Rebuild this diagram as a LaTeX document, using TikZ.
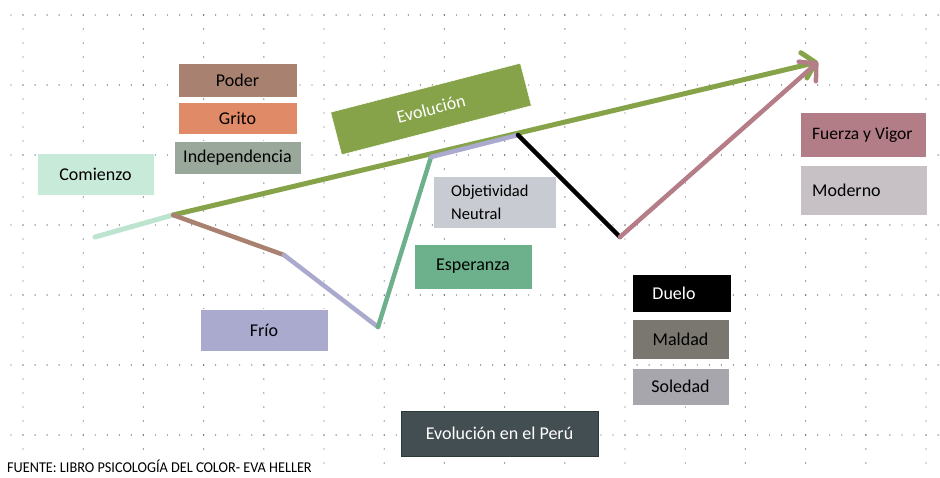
\documentclass[tikz,border=0pt]{standalone}
\usepackage{fontspec}
\setmainfont{Carlito}
\usetikzlibrary{arrows.meta}
\definecolor{dotc}{HTML}{606060}
\definecolor{cComienzo}{HTML}{C8EAD9}
\definecolor{cComLine}{HTML}{BCE4CF}
\definecolor{cPoder}{HTML}{A88170}
\definecolor{cGrito}{HTML}{E08A67}
\definecolor{cIndep}{HTML}{9AA89B}
\definecolor{cEvol}{HTML}{86A349}
\definecolor{cObj}{HTML}{C9CBD3}
\definecolor{cEsper}{HTML}{6DB18C}
\definecolor{cFrio}{HTML}{A9AACE}
\definecolor{cMaldad}{HTML}{7A7670}
\definecolor{cSoledad}{HTML}{A7A6AC}
\definecolor{cPeru}{HTML}{434E52}
\definecolor{cPeruB}{HTML}{2E383B}
\definecolor{cFuerza}{HTML}{B37D87}
\definecolor{cModerno}{HTML}{C7C1C5}
\definecolor{cPink}{HTML}{B47D88}
\begin{document}
\begin{tikzpicture}[x=1pt,y=-1pt,
  lbl/.style={font=\fontsize{18}{20}\selectfont},
  box/.style={rectangle, draw=white, line width=0.6pt, inner sep=0pt, lbl},
  seg/.style={line width=4.5pt, line cap=round, line join=round},
  tipstyle/.style={-{Straight Barb[round,length=12pt,width=26pt]}}]
\useasboundingbox (0,0) rectangle (940,477);
% dotted grid
\foreach \r in {0,...,6}{
  \foreach \k in {0,...,77}{
    \fill[dotc] ({11+\k*12.04},{15+\r*70}) circle (0.7);
  }
}
\foreach \c in {0,...,15}{
  \foreach \k in {0,...,32}{
    \fill[dotc] ({23+\c*60.2},{15+\k*14}) circle (0.7);
  }
}
% boxes
\node[box, fill=cComienzo, minimum width=117pt, minimum height=42pt] (comienzo) at (95.5,174) {Comienzo};
\node[box, fill=cPoder, minimum width=119pt, minimum height=34pt] (poder) at (237.5,80) {Poder};
\node[box, fill=cGrito, minimum width=119pt, minimum height=32pt] (grito) at (237.5,118) {Grito};
\node[box, fill=cIndep, minimum width=127pt, minimum height=33pt] (indep) at (237.5,157.5) {Independencia};
\node[box, fill=cObj, minimum width=123pt, minimum height=52pt] (obj) at (494.5,202) {};
\node[lbl, anchor=west, align=left, inner sep=0pt, font=\fontsize{16.5}{23}\selectfont] (objt) at (451,202) {Objetividad\\Neutral};
\node[box, fill=cEsper, minimum width=118pt, minimum height=45pt] (esper) at (473,266.5) {Esperanza};
\node[box, fill=cFrio, minimum width=128pt, minimum height=42pt] (frio) at (264,330) {Frío};
\node[box, fill=black, minimum width=99pt, minimum height=38pt] (duelo) at (681.5,293) {};
\node[lbl, text=white, inner sep=0pt] (duelot) at (674,293) {Duelo};
\node[box, fill=cMaldad, minimum width=97pt, minimum height=40pt] (maldad) at (680.5,339) {Maldad};
\node[box, fill=cSoledad, minimum width=97pt, minimum height=37pt] (soledad) at (680.5,386.5) {Soledad};
\node[box, draw=cPeruB, line width=1pt, fill=cPeru, text=white, minimum width=197pt, minimum height=45pt] (peru) at (499.5,433.5) {Evolución en el Perú};
\node[box, fill=cFuerza, minimum width=126pt, minimum height=45pt] (fuerza) at (863,134.5) {};
\node[lbl, anchor=west, inner sep=0pt, font=\fontsize{17.5}{20}\selectfont] (fuerzat) at (812,134.5) {Fuerza y Vigor};
\node[box, fill=cModerno, minimum width=127pt, minimum height=50pt] (moderno) at (863.5,190) {};
\node[lbl, anchor=west, inner sep=0pt] (modernot) at (812,190) {Moderno};
% path points
\coordinate (c0) at (95,237);
\coordinate (c1) at (173,215);
\coordinate (tip) at (818,62);
\coordinate (c2) at (284,255);
\coordinate (c3) at (378,327);
\coordinate (c4) at (431,157);
\coordinate (c5) at (518,135);
\coordinate (c6) at (620,237);
% connectors
\draw[seg, line width=5pt, cEvol, tipstyle] (c1) -- (tip);
\draw[seg, line width=5pt, cComLine] (c0) -- (c1);
\draw[seg, cPoder] (c1) -- (c2);
\draw[seg, cFrio] (c2) -- (c3);
\draw[seg, cEsper] (c3) -- (c4);
\draw[seg, cFrio] (c4) -- (c5);
\draw[seg, black] (c5) -- (c6);
\draw[seg, cPink, tipstyle] (c6) -- (tip);
% rotated label
\node[box, fill=cEvol, text=white, minimum width=196pt, minimum height=44pt, rotate=14.5] (evol) at (431,109) {Evolución};
% footer
\node[anchor=west, inner sep=0pt, font=\fontsize{15}{16}\selectfont, xscale=0.95] (fuente) at (7,466) {FUENTE: LIBRO PSICOLOGÍA DEL COLOR- EVA HELLER};
\end{tikzpicture}
\end{document}
